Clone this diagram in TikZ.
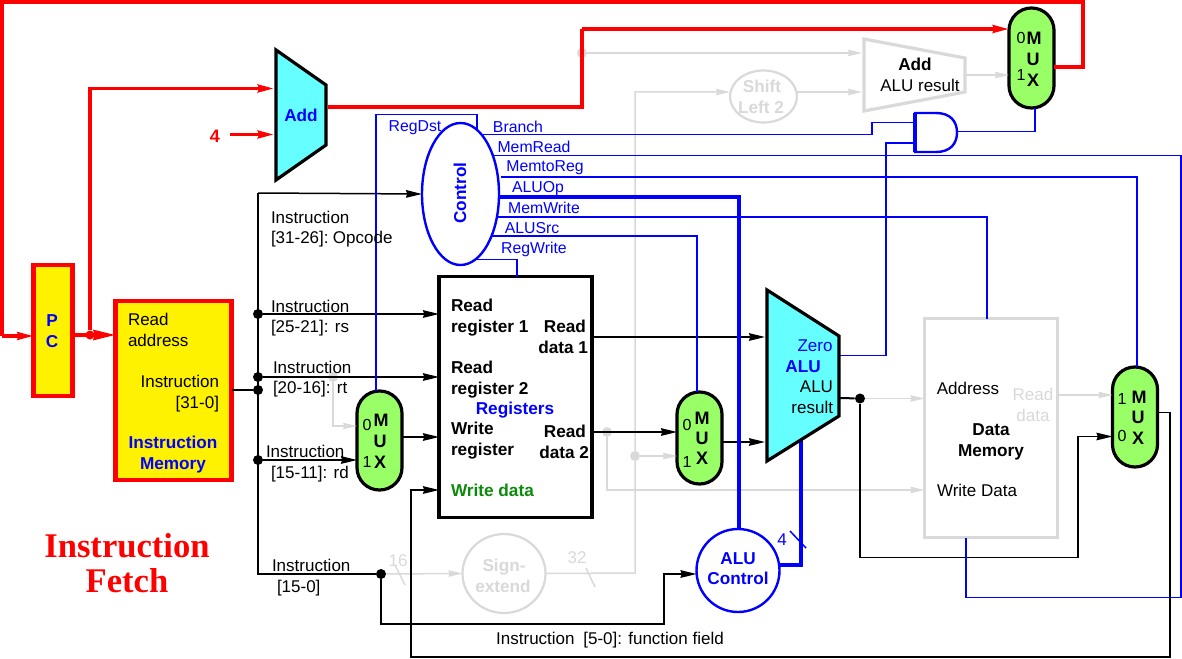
\documentclass[tikz,border=0pt]{standalone}
\usepackage{fontspec}
\setmainfont{Liberation Sans}
\newfontfamily\titlefont{Liberation Serif}
\usetikzlibrary{arrows.meta,shapes.geometric}
\definecolor{cblue}{HTML}{0000FF}
\definecolor{cred}{HTML}{FF0000}
\definecolor{cgray}{HTML}{D9D9D9}
\definecolor{ccyan}{HTML}{66FFFF}
\definecolor{cmux}{HTML}{99FF66}
\definecolor{cgreen}{HTML}{0B8A0B}
\tikzset{
  wire/.style={line width=0.75pt,black},
  gwire/.style={line width=0.75pt,cgray},
  bwire/.style={line width=0.75pt,cblue},
  bthick/.style={line width=2.1pt,cblue},
  rwire/.style={line width=1.7pt,cred},
  arr/.style={-{Stealth[length=8pt,width=3.8pt,inset=0.6pt]}},
  arrs/.style={-{Stealth[length=7pt,width=3.2pt,inset=0.6pt]}},
  arrbig/.style={-{Stealth[length=11pt,width=5pt,inset=0.6pt]}},
  dot/.style={circle,fill=black,inner sep=0pt,minimum size=5pt},
  gdot/.style={circle,fill=cgray,inner sep=0pt,minimum size=5pt},
  box/.style={draw,rectangle,inner sep=0pt,outer sep=0pt},
  redbox/.style={box,draw=cred,fill=yellow,line width=2.4pt},
  mux/.style={box,draw=black,fill=cmux,line width=1.6pt,minimum width=22.5pt,rounded corners=11.2pt},
  txt/.style={inner sep=0pt,outer sep=0pt,text height=6.2pt,text depth=0pt,font=\fontsize{8.5}{10}\selectfont},
  btxt/.style={txt,font=\fontsize{8.6}{10}\selectfont\bfseries},
  bb/.style={btxt,text=cblue},
  gt/.style={btxt,text=cgray},
  sig/.style={txt,text=cblue,font=\fontsize{7.9}{10}\selectfont},
  num/.style={txt,font=\fontsize{8}{10}\selectfont},
  muxl/.style={txt,font=\fontsize{9}{10}\selectfont\bfseries},
  poly/.style={draw=black,fill=ccyan,line width=1.6pt,line join=miter},
}
\begin{document}
\begin{tikzpicture}[x=0.5pt,y=-0.5pt]
\useasboundingbox (0,0) rectangle (1182,658);

% blocks as named nodes (placed first so that connectors may use them; polygons have named ports)
\path
 node[redbox,minimum width=19.5pt,minimum height=65.5pt] (pc) at (53,330.5) {}
 node[redbox,minimum width=58pt,minimum height=89.5pt] (im) at (173.5,390.5) {}
 node[box,draw=black,fill=white,line width=1.6pt,minimum width=76.5pt,minimum height=120.5pt] (regs) at (515.5,397) {}
 node[box,draw=cgray,fill=white,line width=1.6pt,minimum width=66.5pt,minimum height=109.5pt] (dmem) at (991,428) {}
 node[mux,minimum height=49.5pt] (mux1) at (379.5,440.5) {}
 node[mux,minimum height=46pt] (mux2) at (699.5,438) {}
 node[mux,minimum height=50pt] (mux3) at (1135,417) {}
 node[mux,minimum height=50pt] (mux4) at (1031.5,58) {}
 node[ellipse,draw=cblue,fill=white,line width=1.2pt,inner sep=0pt,outer sep=0pt,minimum width=38.5pt,minimum height=71pt] (ctrl) at (460.5,194) {}
 node[circle,draw=cblue,fill=white,line width=1.2pt,inner sep=0pt,outer sep=0pt,minimum size=41.5pt] (aluc) at (738,570.5) {}
 node[ellipse,draw=cgray,fill=white,line width=1.1pt,inner sep=0pt,outer sep=0pt,minimum width=33.5pt,minimum height=26pt] (shift) at (763.5,96.5) {}
 node[ellipse,draw=cgray,fill=white,line width=1.1pt,inner sep=0pt,outer sep=0pt,minimum width=41.5pt,minimum height=39.5pt] (sext) at (504,573.5) {};

% named ports and corners
\coordinate (addOut) at (326,107);
\coordinate (addIn1) at (274,88.5);
\coordinate (addIn2) at (274,134.5);
\coordinate (four) at (230,134.5);
\coordinate (add2In1) at (862,53);
\coordinate (add2In2) at (862,92);
\coordinate (add2Out) at (965,75);
\coordinate (aluIn1) at (765,337);
\coordinate (aluIn2) at (765,442);
\coordinate (aluZero) at (839,355.5);
\coordinate (aluRes) at (839,398);
\coordinate (aluBot) at (801,436);
\coordinate (andIn1) at (915,122.5);
\coordinate (andIn2) at (915,143);
\coordinate (andOut) at (957,131.5);

% junctions
\node[dot] (jA) at (258,314) {};
\node[dot] (jB) at (258,377) {};
\node[dot] (jC) at (258,390) {};
\node[dot] (jD) at (258,460) {};
\node[dot] (jE) at (381,574) {};
\node[dot] (jF) at (860,398.5) {};
\node[gdot] (gA) at (333,377) {};
\node[gdot] (gB) at (607,432) {};
\node[gdot] (gC) at (635,456) {};
\node[gdot] (gD) at (582,53) {};
\node[circle,fill=cred,inner sep=0pt,minimum size=4.5pt] (jR) at (90,335) {};

% gray connectors
\draw[gwire,arrs] (gD) -- (add2In1);
\draw[gwire,arrs] (sext.east) -- (635,573) -- (635,92) -- (shift.west |- 0,92);
\draw[gwire,arrs] (shift.east |- 0,92) -- (add2In2);
\draw[gwire,arrs] (add2Out) -- (mux4.west |- add2Out);
\draw[gwire,arrs] (gC) -- (mux2.west |- gC);
\draw[gwire,arrs] (gB) -- (607,490) -- (dmem.west |- 0,490);
\draw[gwire,arrs] (gA) -- (333,426) -- (mux1.west |- 0,426);
\draw[gwire,arrs] (jE) -- (sext.west);
\draw[gwire,arrs] (jF) -- (dmem.west |- jF);
\draw[gwire,arrs] (dmem.east |- 0,395) -- (mux3.west |- 0,395);
\draw[gwire] (395,565) -- (405,585);
\draw[gwire] (586,568) -- (595,587);

% black connectors
\draw[wire] (im.east |- jC) -- (jC);
\draw[wire] (jA) -- (258,193);
\draw[wire,arr] (258,193) -- (ctrl.west);
\draw[wire] (258,193) -- (258,574) -- (jE);
\draw[wire,arr] (jA) -- (regs.west |- jA);
\draw[wire,arr] (jB) -- (regs.west |- jB);
\draw[wire,arr] (jD) -- (mux1.west |- jD);
\draw[wire,arr] (mux1.east |- 0,437) -- (regs.west |- 0,437);
\draw[wire,arr] (jE) -- (381,624) -- (664,624) -- (664,574) -- (aluc.west |- 0,574);
\draw[wire,arr] (mux3.east |- 0,412.5) -- (1170,412.5) -- (1170,657) -- (411,657) -- (411,490) -- (regs.west |- 0,490);
\draw[wire,arr] (regs.east |- aluIn1) -- (aluIn1);
\draw[wire,arr] (regs.east |- gB) -- (mux2.west |- gB);
\draw[wire,arr] (mux2.east |- aluIn2) -- (aluIn2);
\draw[wire,line width=1pt] (aluRes) -- (jF);
\draw[wire,arr] (jF) -- (860,557.5) -- (1078,557.5) -- (1078,436.5) -- (mux3.west |- 0,436.5);

% blue connectors
\draw[bwire] (477,130) -- (477,114.5) -- (376,114.5) -- (mux1.north -| 376,0);
\draw[bwire] (482,134.5) -- (872,134.5) -- (872,122.5) -- (andIn1);
\draw[bwire] (aluZero) -- (886,355.5) -- (886,143) -- (andIn2);
\draw[bwire] (andOut) -- (1035,131.5) -- (mux4.south -| 1035,0);
\draw[bwire] (492,155.5) -- (1181,155.5) -- (1181,597.5) -- (966,597.5) -- (dmem.south -| 966,0);
\draw[bwire] (501,177) -- (1137,177) -- (mux3.north -| 1137,0);
\draw[bwire] (497,217) -- (987,217) -- (dmem.north -| 987,0);
\draw[bwire] (491,236) -- (697,236) -- (mux2.north -| 697,0);
\draw[bwire] (477,259.5) -- (517,259.5) -- (regs.north -| 517,0);
\draw[bthick] (ctrl.east |- 0,197) -- (739,197) -- (739,530);
\draw[bthick] (aluc.east |- 0,565) -- (801,565) -- (aluBot);
\draw[bwire] (790,531) -- (806,548);

% polygons and gate
\draw[poly] (276,50) -- (326,85) -- (326,145) -- (276,180) -- cycle;
\draw[poly] (767,290) -- (839,336) -- (839,416) -- (767,461) -- cycle;
\draw[draw=cgray,fill=white,line width=1.6pt] (864,39) -- (965,58) -- (965,92) -- (864,111) -- cycle;
\draw[bwire,line width=1.2pt,fill=white] (936,113) .. controls (950,113) and (957,121) .. (957,132.5) .. controls (957,144) and (950,152) .. (936,152) -- (915,152) -- (915,113) -- cycle;
\draw[cblue,line width=1.7pt] (915,113) -- (915,152);

% red connectors
\draw[rwire,arrbig] (pc.east |- jR) -- (im.west |- jR);
\draw[rwire,arr] (jR) -- (90,88.5) -- (addIn1);
\draw[rwire,arr] (four) -- (addIn2);
\draw[rwire] (addOut) ++(2,0) -- (582,107) -- (582,29);
\draw[rwire,arr] (582,29) -- (mux4.west |- 0,29);
\draw[rwire,line cap=butt] (mux4.east |- 0,67) -- (1083,67) -- (1083,2) -- (2,2) -- (2,336);
\draw[rwire,arr] (2,336) -- (pc.west |- 0,336);

% texts
\node[txt,text=cred,font=\fontsize{9}{10}\selectfont\bfseries] (tFour) at (215,136) {4};
\node[bb] (tAdd) at (301,115) {Add};
\node[bb] (tP) at (52,320) {P};
\node[bb] (tC) at (52,341) {C};
\node[txt,anchor=west] (tIm1) at (128,319) {Read};
\node[txt,anchor=west] (tIm2) at (128,340) {address};
\node[txt,anchor=east] (tIm3) at (219,381) {Instruction};
\node[txt,anchor=east] (tIm4) at (219,402) {[31-0]};
\node[bb] (tIm5) at (173,442) {Instruction};
\node[bb] (tIm6) at (173,463) {Memory};
\node[txt,anchor=west] (tI1) at (271,217) {Instruction};
\node[txt,anchor=west] (tI2) at (271,237) {[31-26]:\hspace{-1pt} Opcode};
\node[txt,anchor=west] (tI3) at (271,306) {Instruction};
\node[txt,anchor=west] (tI4) at (271,326) {[25-21]: rs};
\node[txt,anchor=west] (tI5) at (273,367) {Instruction};
\node[txt,anchor=west] (tI6) at (273,387) {[20-16]: rt};
\node[txt,anchor=west] (tI7) at (266,451) {Instruction};
\node[txt,anchor=west] (tI8) at (271,472) {[15-11]: rd};
\node[txt,anchor=west] (tI9) at (272,565) {Instruction};
\node[txt,anchor=west] (tI10) at (277,586) {[15-0]};
\node[txt] (tFn) at (610,638) {Instruction\hspace{2pt} [5-0]: function field};
\node[btxt,rotate=90,text=cblue] (tCtrl) at (460,193) {Control};
\node[sig] (sRegDst) at (415,125) {RegDst};
\node[sig] (sBranch) at (518,126) {Branch};
\node[sig] (sMemRead) at (534,146) {MemRead};
\node[sig] (sMemtoReg) at (545,165) {MemtoReg};
\node[sig] (sALUOp) at (538,186) {ALUOp};
\node[sig] (sMemWrite) at (544,207) {MemWrite};
\node[sig] (sALUSrc) at (532,227) {ALUSrc};
\node[sig] (sRegWrite) at (534,247) {RegWrite};
\node[btxt,anchor=west] (r1) at (451,305) {Read};
\node[btxt,anchor=west] (r2) at (451,326) {register 1};
\node[btxt,anchor=west] (r3) at (451,367) {Read};
\node[btxt,anchor=west] (r4) at (451,388) {register 2};
\node[btxt,anchor=west] (r5) at (451,428) {Write};
\node[btxt,anchor=west] (r6) at (451,449) {register};
\node[btxt,anchor=west,text=cgreen] (r7) at (451,490) {Write data};
\node[bb] (r8) at (515,408) {Registers};
\node[btxt,anchor=east] (r9) at (586,326) {Read};
\node[btxt,anchor=east] (r10) at (588,347) {data 1};
\node[btxt,anchor=east] (r11) at (586,431) {Read};
\node[btxt,anchor=east] (r12) at (589,452) {data 2};
\node[num] (m10) at (367,424) {0};
\node[num] (m11) at (367,461) {1};
\node[muxl] (m1M) at (381,420) {M};
\node[muxl] (m1U) at (380,441) {U};
\node[muxl] (m1X) at (380,462) {X};
\node[num] (m20) at (687,424) {0};
\node[num] (m21) at (687,461) {1};
\node[muxl] (m2M) at (702,418) {M};
\node[muxl] (m2U) at (702,438) {U};
\node[muxl] (m2X) at (702,458) {X};
\node[num] (m30) at (1122,435) {0};
\node[num] (m31) at (1122,398) {1};
\node[muxl] (m3M) at (1139,397) {M};
\node[muxl] (m3U) at (1138,417) {U};
\node[muxl] (m3X) at (1138,438) {X};
\node[num] (m40) at (1021,37) {0};
\node[num] (m41) at (1021,74) {1};
\node[muxl] (m4M) at (1034,38) {M};
\node[muxl] (m4U) at (1033,59) {U};
\node[muxl] (m4X) at (1033,80) {X};
\node[btxt] (tAdd2) at (915,64) {Add};
\node[txt] (tAdd3) at (920,85) {ALU result};
\node[gt] (tS1) at (762,86) {Shift};
\node[gt] (tS2) at (761,107) {Left 2};
\node[gt] (tSe1) at (504,565) {Sign-};
\node[gt] (tSe2) at (503,586) {extend};
\node[txt,text=cgray] (t16) at (398,560) {16};
\node[txt,text=cgray] (t32) at (577,557) {32};
\node[txt,text=cblue] (tZero) at (815,345) {Zero};
\node[bb] (tAlu) at (803,366) {ALU};
\node[txt,anchor=east] (tA1) at (833,386) {ALU};
\node[txt,anchor=east] (tA2) at (833,407) {result};
\node[bb] (tAc1) at (738,558) {ALU};
\node[bb] (tAc2) at (738,578) {Control};
\node[txt,text=cblue] (tFourB) at (782,539) {4};
\node[txt] (tD1) at (968,388) {Address};
\node[txt,text=cgray] (tD2) at (1033,394) {Read};
\node[txt,text=cgray] (tD3) at (1033,415) {data};
\node[btxt] (tD4) at (991,429) {Data};
\node[btxt] (tD5) at (991,450) {Memory};
\node[txt] (tD6) at (977,490) {Write Data};
\node[txt,text=cred,text height=11pt,font=\fontsize{17.3}{20}\titlefont\bfseries] (tT1) at (127,546) {Instruction};
\node[txt,text=cred,text height=11pt,font=\fontsize{17.3}{20}\titlefont\bfseries] (tT2) at (127,581) {Fetch};
\end{tikzpicture}
\end{document}
